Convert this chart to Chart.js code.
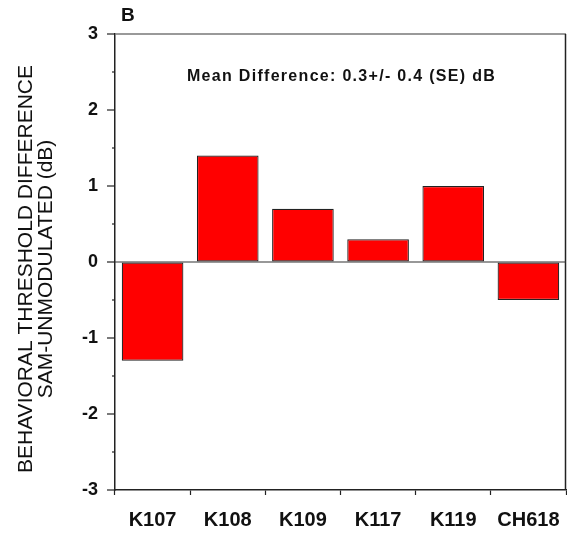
<!DOCTYPE html>
<html>
<head>
<meta charset="utf-8">
<script src="https://cdn.jsdelivr.net/npm/chart.js@4"></script>
<style>
  html, body { margin: 0; padding: 0; background: #fff; }
  #wrap { width: 567px; height: 533px; }
</style>
</head>
<body>
<div id="wrap"><canvas id="thresholdChart" width="567" height="533"></canvas></div>
<script>
const animals = ['K107', 'K108', 'K109', 'K117', 'K119', 'CH618'];
const thresholdDiff = [-1.3, 1.4, 0.7, 0.3, 1.0, -0.5];
const yTickValues = [-3, -2, -1, 0, 1, 2, 3];
const panelLabel = 'B';
const meanNote = 'Mean Difference: 0.3+/- 0.4 (SE) dB';
const yTitle = ['BEHAVIORAL THRESHOLD DIFFERENCE', 'SAM-UNMODULATED (dB)'];

const FONT = '"Liberation Sans", Arial, Helvetica, sans-serif';

// frame, zero line, y ticks (major/minor) and text labels
const decorations = {
    id: 'decorations',
    afterDatasetsDraw(chart) {
        const ctx = chart.ctx;
        const area = chart.chartArea;
        const y = chart.scales.y;
        ctx.save();

        // top + right frame
        ctx.lineWidth = 1.5;
        ctx.strokeStyle = '#777';
        ctx.beginPath();
        ctx.moveTo(area.left, area.top);
        ctx.lineTo(area.right, area.top);
        ctx.stroke();
        ctx.strokeStyle = '#222';
        ctx.beginPath();
        ctx.moveTo(area.right - 0.5, area.top);
        ctx.lineTo(area.right - 0.5, area.bottom);
        ctx.stroke();

        // zero line
        const y0 = y.getPixelForValue(0);
        ctx.strokeStyle = '#333';
        ctx.lineWidth = 1.2;
        ctx.beginPath();
        ctx.moveTo(area.left, y0);
        ctx.lineTo(area.right, y0);
        ctx.stroke();

        // y tick marks
        ctx.strokeStyle = '#222';
        ctx.lineWidth = 1.2;
        y.ticks.forEach(t => {
            const py = y.getPixelForValue(t.value);
            const len = Number.isInteger(t.value) ? 8 : 3;
            ctx.beginPath();
            ctx.moveTo(area.left - len, py);
            ctx.lineTo(area.left, py);
            ctx.stroke();
        });

        // y axis title, two rotated lines
        ctx.fillStyle = '#111';
        ctx.font = '21px ' + FONT;
        ctx.textAlign = 'center';
        ctx.textBaseline = 'middle';
        ctx.save();
        ctx.translate(26, (area.top + area.bottom) / 2 + 7);
        ctx.rotate(-Math.PI / 2);
        yTitle.forEach((line, i) => ctx.fillText(line, 0, i * 20));
        ctx.restore();

        // panel letter
        ctx.font = 'bold 19px ' + FONT;
        ctx.textAlign = 'left';
        ctx.fillText(panelLabel, area.left + 6, 16);

        // mean note
        ctx.font = 'bold 16px ' + FONT;
        ctx.letterSpacing = '1.3px';
        ctx.textAlign = 'center';
        ctx.fillText(meanNote, (area.left + area.right) / 2 + 1, y.getPixelForValue(2.44));
        ctx.restore();
    }
};

const ctx = document.getElementById('thresholdChart').getContext('2d');
new Chart(ctx, {
    type: 'bar',
    data: {
        labels: animals,
        datasets: [{
            data: thresholdDiff,
            backgroundColor: '#ff0000',
            borderColor: '#222',
            borderWidth: 1.2,
            borderSkipped: false,
            barPercentage: 0.82,
            categoryPercentage: 1.0
        }]
    },
    options: {
        responsive: false,
        animation: false,
        layout: { padding: { top: 34, right: 1, bottom: 0, left: 0 } },
        plugins: {
            legend: { display: false },
            tooltip: { enabled: false }
        },
        scales: {
            x: {
                offset: true,
                grid: {
                    offset: true,
                    drawOnChartArea: false,
                    tickLength: 5,
                    tickColor: '#222',
                    tickWidth: 1.2
                },
                border: { display: true, color: '#222', width: 1.5 },
                ticks: {
                    color: '#111',
                    padding: 13,
                    maxRotation: 0,
                    autoSkip: false,
                    font: { family: FONT, size: 20, weight: 'bold' }
                },
                afterFit(scale) {
                    scale.height = 43;
                    scale.paddingLeft = 0;
                    scale.paddingRight = 0;
                }
            },
            y: {
                min: -3,
                max: 3,
                grid: { drawOnChartArea: false, drawTicks: false },
                border: { display: true, color: '#222', width: 1.5 },
                ticks: {
                    stepSize: 0.5,
                    color: '#111',
                    padding: 17,
                    font: { family: FONT, size: 18, weight: 'bold' },
                    callback: v => yTickValues.includes(v) ? String(v) : ''
                },
                afterFit(scale) {
                    scale.width = 115;
                    scale.paddingTop = 0;
                    scale.paddingBottom = 0;
                }
            }
        }
    },
    plugins: [decorations]
});
</script>
</body>
</html>
